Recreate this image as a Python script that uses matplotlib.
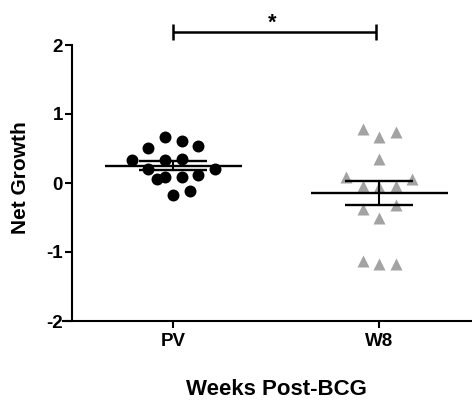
import numpy as np
import matplotlib
matplotlib.use('Agg')
import matplotlib.pyplot as plt

plt.rcParams['font.family'] = ['Liberation Sans', 'DejaVu Sans']
plt.rcParams['font.weight'] = 'bold'

groups = ['PV', 'W8']
# values, with their jitter slot in the column
pv_vals = [0.669, 0.607, 0.538, 0.501, 0.331, 0.331, 0.350, 0.196, 0.200,
           0.055, 0.089, 0.080, 0.113, -0.177, -0.115]
pv_slot = [-1, 1, 3, -3, -5, -1, 1, -3, 5, -2, -1, 1, 3, 0, 2]
w8_vals = [0.781, 0.669, 0.733, 0.341, 0.089, 0.051, -0.046, -0.065, -0.046,
           -0.380, -0.322, -0.501, -1.131, -1.178, -1.168]
w8_slot = [-1, 0, 1, 0, -2, 2, -1, 0, 1, -1, 1, 0, -1, 0, 1]
yticks = [-2, -1, 0, 1, 2]

fig = plt.figure(figsize=(4.72, 4.03), dpi=100)
ax = fig.add_axes([63/472, 82/403, 409/472, 276/403])

lw = 1.5
# points
ax.plot(0 + np.array(pv_slot)*0.0403, pv_vals, 'o', color='black', ms=8.6,
        mec='none', zorder=2, clip_on=False)
ax.plot(1 + np.array(w8_slot)*0.080, w8_vals, '^', color='#a3a3a3', ms=9,
        mec='none', zorder=2, clip_on=False)

# mean +/- SEM
for x, vals in [(0, pv_vals), (1, w8_vals)]:
    v = np.array(vals)
    m = v.mean()
    sem = v.std(ddof=1)/np.sqrt(len(v))
    ax.plot([x-0.332, x+0.332], [m, m], color='black', lw=1.7, zorder=3,
            solid_capstyle='butt')
    ax.plot([x, x], [m-sem, m+sem], color='black', lw=1.5, zorder=3)
    for yy in (m-sem, m+sem):
        ax.plot([x-0.165, x+0.165], [yy, yy], color='black', lw=1.7, zorder=3,
                solid_capstyle='butt')

# significance bar
ybar = 2.184
ax.plot([0, 0.985], [ybar, ybar], color='black', lw=1.8, clip_on=False,
        solid_capstyle='butt')
for xx in (0, 0.985):
    ax.plot([xx, xx], [ybar-0.116, ybar+0.116], color='black', lw=1.8,
            clip_on=False, solid_capstyle='butt')
ax.text(0.48, 2.24, '*', ha='center', va='baseline', fontsize=15.5,
        fontweight='bold')

ax.set_xlim(-0.5354, 1.45)
ax.set_ylim(-2, 2)
ax.spines['top'].set_visible(False)
ax.spines['right'].set_visible(False)
ax.spines['left'].set_position(('data', -0.492))
for s in ('left', 'bottom'):
    ax.spines[s].set_linewidth(lw)

ax.set_xticks([0, 1])
ax.set_xticklabels(groups, fontsize=13.5, fontweight='bold')
ax.set_yticks(yticks)
ax.set_yticklabels([str(t) for t in yticks], fontsize=13.5, fontweight='bold')
ax.tick_params(axis='both', direction='out', width=lw, length=5)
ax.tick_params(axis='x', pad=3.5)
ax.tick_params(axis='y', pad=1.5)

ax.set_ylabel('Net Growth', fontsize=15, fontweight='bold', va='center')
ax.yaxis.set_label_coords(-0.105, 0.52)
ax.set_xlabel('Weeks Post-BCG', fontsize=16, fontweight='bold', va='center')
ax.xaxis.set_label_coords(0.521, -0.248)

fig.savefig('out.png', dpi=100)
